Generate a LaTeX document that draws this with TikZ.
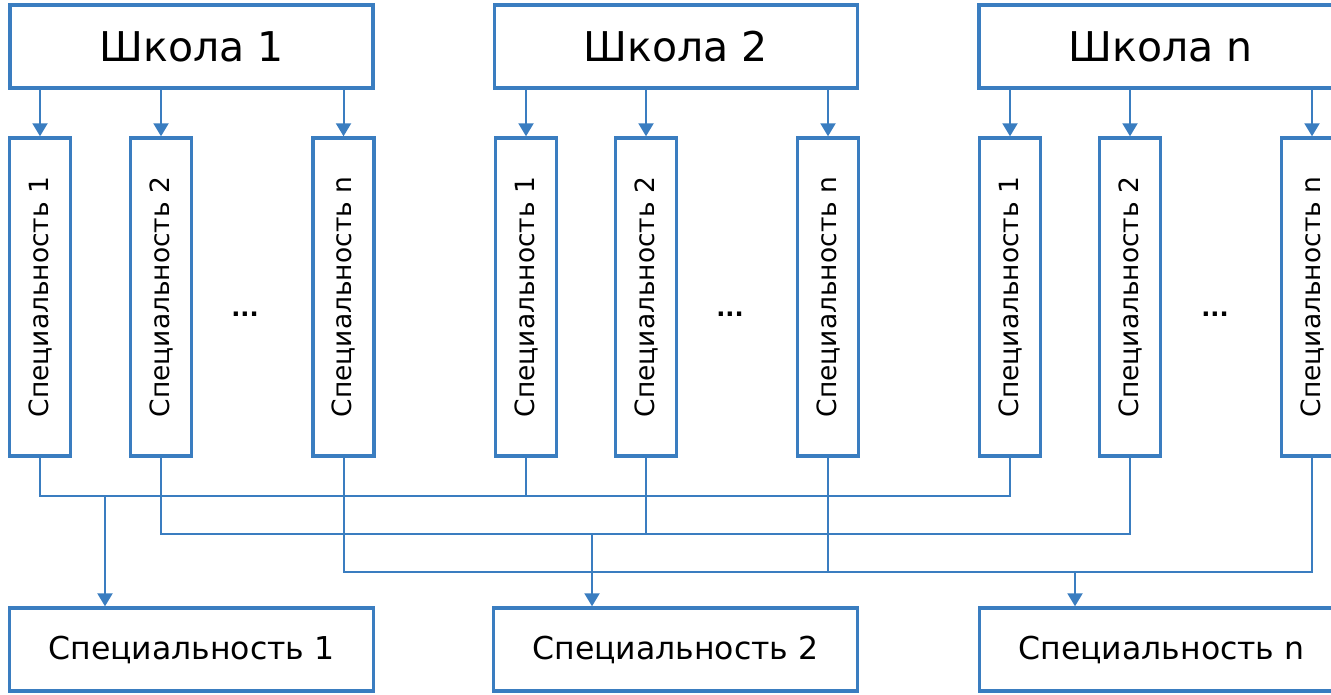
\documentclass[tikz,border=0pt]{standalone}
\usepackage{fontspec}
\setmainfont{DejaVu Sans}
\usetikzlibrary{arrows.meta}
\definecolor{bl}{HTML}{3A7DC0}
\tikzset{
  x=1pt, y=-1pt,
  box/.style={draw=bl, line width=3.4pt, fill=white, inner sep=0pt},
  topbox/.style={box, minimum width=363pt, minimum height=83pt, font=\fontsize{41}{48}\selectfont},
  botbox/.style={box, minimum width=364pt, minimum height=83pt, font=\fontsize{31.5}{36}\selectfont},
  specbox/.style={box, minimum width=318pt, minimum height=61pt, rotate=90, font=\fontsize{26.5}{30}\selectfont},
  wire/.style={draw=bl, line width=2pt},
  arr/.style={wire, -{Triangle[width=15pt,length=13pt]}},
  dots/.style={font=\fontsize{24}{24}\selectfont\bfseries}
}
\begin{document}
\begin{tikzpicture}
\useasboundingbox (0,0) rectangle (1331,694);
\clip (0,0) rectangle (1331,694);
\fill[white] (0,0) rectangle (1331,694);
% schools
\node[topbox] (S1) at (191.5,46.5) {Школа 1};
\node[topbox] (S2) at (676,46.5) {Школа 2};
\node[topbox] (S3) at (1160.5,46.5) {Школа n};
% specialities per school
\node[specbox] (a1) at (40,297) {Специальность 1};
\node[specbox] (a2) at (161,297) {Специальность 2};
\node[specbox] (an) at (343.5,297) {Специальность n};
\node[specbox] (b1) at (526,297) {Специальность 1};
\node[specbox] (b2) at (646,297) {Специальность 2};
\node[specbox] (bn) at (828,297) {Специальность n};
\node[specbox] (c1) at (1010,297) {Специальность 1};
\node[specbox] (c2) at (1130,297) {Специальность 2};
\node[specbox] (cn) at (1312,297) {Специальность n};
\node[dots] (d1) at (245,314) {...};
\node[dots] (d2) at (730,314) {...};
\node[dots] (d3) at (1215,314) {...};
% bottom
\node[botbox] (T1) at (191.5,649.5) {Специальность 1};
\node[botbox] (T2) at (675.5,649.5) {Специальность 2};
\node[botbox] (T3) at (1161.5,649.5) {Специальность n};
% arrows school -> spec
\foreach \s/\p in {S1/a1,S1/a2,S1/an,S2/b1,S2/b2,S2/bn,S3/c1,S3/c2,S3/cn}
  \draw[arr] (\s.south -| \p.center) -- (\p.east);
% buses
\coordinate (y1) at (0,496);
\coordinate (y2) at (0,534);
\coordinate (y3) at (0,572);
\draw[wire] (a1.west) -- (a1.west |- y1) -- (c1.west |- y1) -- (c1.west);
\draw[wire] (b1.west) -- (b1.west |- y1);
\draw[wire] (a2.west) -- (a2.west |- y2) -- (c2.west |- y2) -- (c2.west);
\draw[wire] (b2.west) -- (b2.west |- y2);
\draw[wire] (an.west) -- (an.west |- y3) -- (cn.west |- y3) -- (cn.west);
\draw[wire] (bn.west) -- (bn.west |- y3);
\coordinate (j1) at (105,496);
\coordinate (j2) at (592,534);
\coordinate (j3) at (1075,572);
\draw[arr] (j1) -- (j1 |- T1.north);
\draw[arr] (j2) -- (j2 |- T2.north);
\draw[arr] (j3) -- (j3 |- T3.north);
\end{tikzpicture}
\end{document}
